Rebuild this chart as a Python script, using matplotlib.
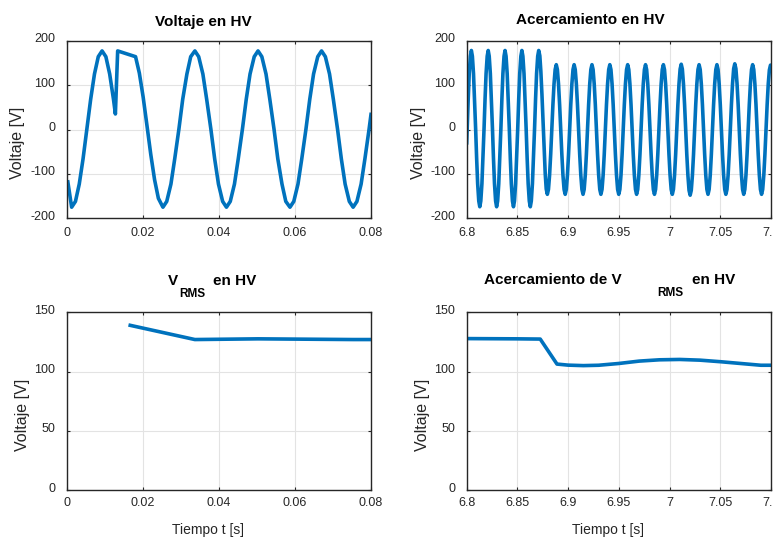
import matplotlib
matplotlib.use("Agg")
import matplotlib.pyplot as plt
import matplotlib.transforms as mtransforms
from matplotlib import font_manager

# ---------------- data ----------------
hv_t = [0.0003, 0.0013, 0.0023, 0.0033, 0.0043, 0.0053, 0.0063, 0.0073, 0.0083, 0.0093,
        0.0103, 0.0113, 0.0123, 0.0128, 0.0134, 0.0181, 0.0191, 0.0201, 0.0211, 0.0221,
        0.0231, 0.0241, 0.0253,
        0.0263, 0.0274, 0.0284, 0.0295, 0.0305, 0.0316, 0.0326, 0.0337,
        0.0347, 0.0358, 0.0368, 0.0379, 0.0389, 0.0399, 0.0410, 0.0420,
        0.0430, 0.0441, 0.0451, 0.0462, 0.0472, 0.0482, 0.0493, 0.0503,
        0.0513, 0.0524, 0.0534, 0.0545, 0.0555, 0.0566, 0.0576, 0.0587,
        0.0597, 0.0608, 0.0618, 0.0629, 0.0639, 0.0649, 0.0660, 0.0670,
        0.0680, 0.0691, 0.0701, 0.0712, 0.0722, 0.0732, 0.0743, 0.0753,
        0.0763, 0.0774, 0.0784, 0.0795, 0.0800]
hv_v = [-118, -175, -162, -123, -66, 1, 68, 125, 164, 177,
        164, 125, 68, 35, 177, 164, 127, 73, 9, -56,
        -113, -155, -175,
        -162, -123, -66, 1, 68, 125, 164, 177,
        164, 125, 68, 1, -66, -123, -162, -175,
        -162, -123, -66, 1, 68, 125, 164, 177,
        164, 125, 68, 1, -66, -123, -162, -175,
        -162, -123, -66, 1, 68, 125, 164, 177,
        164, 125, 68, 1, -66, -123, -162, -175,
        -162, -123, -66, 1, 34]

zoom_t = [6.8000, 6.8015, 6.8025, 6.8036, 6.8046,
          6.8056, 6.8067, 6.8077, 6.8088, 6.8098, 6.8108, 6.8119, 6.8129,
          6.8139, 6.8150, 6.8160, 6.8171, 6.8181, 6.8191, 6.8202, 6.8212,
          6.8222, 6.8233, 6.8243, 6.8254, 6.8264, 6.8274, 6.8285, 6.8295,
          6.8305, 6.8316, 6.8326, 6.8337, 6.8347, 6.8357, 6.8368, 6.8378,
          6.8388, 6.8399, 6.8409, 6.8420, 6.8430, 6.8440, 6.8451, 6.8461,
          6.8471, 6.8482, 6.8492, 6.8503, 6.8513, 6.8523, 6.8534, 6.8544,
          6.8554, 6.8565, 6.8575, 6.8586, 6.8596, 6.8606, 6.8617, 6.8627,
          6.8637, 6.8648, 6.8658, 6.8669, 6.8679, 6.8689, 6.8700, 6.8710,
          6.8721, 6.8731, 6.8742, 6.8753, 6.8763, 6.8774, 6.8784, 6.8795,
          6.8806, 6.8817, 6.8828, 6.8839, 6.8850, 6.8861, 6.8872, 6.8883,
          6.8894, 6.8905, 6.8916, 6.8927, 6.8938, 6.8949, 6.8960, 6.8971,
          6.8982, 6.8993, 6.9004, 6.9015, 6.9026, 6.9037, 6.9048, 6.9059,
          6.9070, 6.9081, 6.9092, 6.9103, 6.9114, 6.9125, 6.9136, 6.9147,
          6.9158, 6.9169, 6.9180, 6.9191, 6.9202, 6.9213, 6.9224, 6.9235,
          6.9246, 6.9257, 6.9268, 6.9279, 6.9290, 6.9301, 6.9312, 6.9323,
          6.9334, 6.9345, 6.9356, 6.9367, 6.9378, 6.9389, 6.9400, 6.9411,
          6.9422, 6.9433, 6.9444, 6.9455, 6.9466, 6.9477, 6.9488, 6.9499,
          6.9510, 6.9521, 6.9532, 6.9543, 6.9554, 6.9565, 6.9576, 6.9587,
          6.9598, 6.9609, 6.9620, 6.9631, 6.9642, 6.9653, 6.9664, 6.9675,
          6.9686, 6.9697, 6.9708, 6.9719, 6.9730, 6.9741, 6.9752, 6.9763,
          6.9774, 6.9785, 6.9796, 6.9807, 6.9818, 6.9829, 6.9840, 6.9851,
          6.9862, 6.9873, 6.9884, 6.9895, 6.9906, 6.9917, 6.9928, 6.9939,
          6.9950, 6.9961, 6.9972, 6.9983, 6.9994, 7.0005, 7.0016, 7.0027,
          7.0038, 7.0049, 7.0060, 7.0071, 7.0082, 7.0093, 7.0104, 7.0115,
          7.0126, 7.0137, 7.0148, 7.0159, 7.0170, 7.0181, 7.0192, 7.0203,
          7.0214, 7.0225, 7.0236, 7.0247, 7.0258, 7.0269, 7.0280, 7.0291,
          7.0302, 7.0313, 7.0324, 7.0335, 7.0346, 7.0357, 7.0368, 7.0379,
          7.0390, 7.0401, 7.0412, 7.0423, 7.0434, 7.0445, 7.0456, 7.0467,
          7.0478, 7.0489, 7.0500, 7.0511, 7.0522, 7.0533, 7.0544, 7.0555,
          7.0566, 7.0577, 7.0588, 7.0599, 7.0610, 7.0621, 7.0632, 7.0643,
          7.0654, 7.0665, 7.0676, 7.0687, 7.0698, 7.0709, 7.0720, 7.0731,
          7.0742, 7.0753, 7.0764, 7.0775, 7.0786, 7.0797, 7.0808, 7.0819,
          7.0830, 7.0841, 7.0852, 7.0863, 7.0874, 7.0885, 7.0896, 7.0907,
          7.0918, 7.0929, 7.0940, 7.0951, 7.0962, 7.0973, 7.0984, 7.0995,
          7.1000]
zoom_v = [-30, 69, 126, 165, 178,
          165, 126, 69, 2, -65, -122, -161, -174,
          -161, -122, -65, 2, 69, 126, 165, 178,
          165, 126, 69, 2, -65, -122, -161, -174,
          -161, -122, -65, 2, 69, 126, 165, 178,
          165, 126, 69, 2, -65, -122, -161, -174,
          -161, -122, -65, 2, 69, 126, 165, 178,
          165, 126, 69, 2, -65, -122, -161, -174,
          -161, -122, -65, 2, 69, 126, 165, 178,
          166, 131, 78, 16, -46, -99, -134, -146,
          -135, -103, -56, 0, 56, 103, 135, 146,
          135, 103, 56, 0, -56, -103, -135, -146,
          -135, -103, -56, 0, 56, 103, 135, 146,
          135, 103, 56, 0, -56, -103, -135, -146,
          -135, -103, -56, 0, 56, 103, 135, 146,
          135, 103, 56, 0, -56, -103, -135, -146,
          -135, -103, -56, 0, 56, 103, 135, 146,
          135, 103, 56, 0, -56, -103, -135, -146,
          -135, -103, -56, 0, 56, 103, 135, 146,
          135, 103, 56, 0, -56, -103, -135, -146,
          -135, -103, -56, 0, 56, 103, 135, 146,
          135, 103, 56, 0, -56, -103, -135, -146,
          -135, -103, -56, 0, 56, 103, 135, 146,
          135, 103, 56, 0, -56, -103, -135, -146,
          -135, -103, -56, 0, 56, 103, 136, 147,
          136, 103, 56, 0, -57, -104, -137, -148,
          -137, -104, -57, 0, 56, 103, 135, 146,
          135, 103, 56, 0, -56, -103, -135, -146,
          -135, -103, -56, 0, 56, 103, 135, 146,
          135, 103, 56, 0, -56, -103, -135, -146,
          -135, -103, -56, 0, 57, 104, 137, 148,
          137, 104, 57, 0, -56, -103, -135, -146,
          -135, -103, -56, 0, 56, 103, 135, 146,
          135, 103, 56, 0, -56, -103, -135, -146,
          -135, -103, -56, 0, 56, 103, 134, 145,
          143]

rms_t = [0.0167, 0.0337, 0.0420, 0.0503, 0.0587, 0.0670, 0.0753, 0.0800]
rms_v = [139.0, 127.0, 127.3, 127.6, 127.4, 127.2, 127.0, 127.0]

rmsz_t = [6.800, 6.850, 6.8725, 6.889, 6.900, 6.915, 6.930, 6.950, 6.970, 6.990,
          7.010, 7.030, 7.050, 7.070, 7.090, 7.100]
rmsz_v = [127.8, 127.6, 127.4, 106.3, 105.4, 105.0, 105.3, 106.8, 108.8, 109.9,
          110.2, 109.6, 108.3, 106.8, 105.3, 105.3]

ticks_early = [0, 0.02, 0.04, 0.06, 0.08]
ticklabels_early = ["0", "0.02", "0.04", "0.06", "0.08"]
ticks_late = [6.8, 6.85, 6.9, 6.95, 7.0, 7.05, 7.1]
ticklabels_late = ["6.8", "6.85", "6.9", "6.95", "7", "7.05", "7.1"]
yticks_v = [-200, -100, 0, 100, 200]
yticks_rms = [0, 50, 100, 150]

# ---------------- style ----------------
names = {f.name for f in font_manager.fontManager.ttflist}
family = "Liberation Sans"
for cand in ["Liberation Sans Narrow", "Arial Narrow", "Liberation Sans"]:
    if cand in names:
        family = cand
        break
narrow = "Narrow" in family
plt.rcParams["font.family"] = [family, "DejaVu Sans"]

TXT = "#262626"
BLUE = "#0072BD"
GRID = "#e3e3e3"
TICK_FS = 10 if narrow else 9
YLAB_FS = 12 if narrow else 11.5
XLAB_FS = 12 if narrow else 10
TIT_FS = 12 if narrow else 11
SUB_FS = 9.5 if narrow else 8.5
LW = 2.6

W, H = 773, 540
fig = plt.figure(figsize=(W / 100, H / 100), dpi=100)


def add_axes(left, top, right, bottom):
    return fig.add_axes([left / W, 1 - bottom / H, (right - left) / W, (bottom - top) / H])


def style(ax, xpad):
    ax.grid(True, color=GRID, linewidth=0.8)
    ax.set_axisbelow(True)
    for s in ax.spines.values():
        s.set_color(TXT)
        s.set_linewidth(1.0)
    ax.tick_params(direction="in", length=2.5, width=0.8, color=TXT,
                   top=True, right=True, labelcolor=TXT, labelsize=TICK_FS)
    ax.tick_params(axis="y", pad=8.4)
    ax.tick_params(axis="x", pad=xpad)


ax1 = add_axes(66.7, 40.7, 371, 218.3)
ax2 = add_axes(466.7, 40.7, 771, 218.3)
ax3 = add_axes(66.7, 312.3, 371, 490)
ax4 = add_axes(466.7, 312.3, 771, 490)

ax1.plot(hv_t, hv_v, color=BLUE, linewidth=LW, solid_joinstyle="round")
ax2.plot(zoom_t, zoom_v, color=BLUE, linewidth=LW, solid_joinstyle="round")
ax3.plot(rms_t, rms_v, color=BLUE, linewidth=LW, solid_joinstyle="round")
ax4.plot(rmsz_t, rmsz_v, color=BLUE, linewidth=LW, solid_joinstyle="round")

for ax in (ax1, ax3):
    ax.set_xlim(0, 0.08)
    ax.set_xticks(ticks_early)
    ax.set_xticklabels(ticklabels_early)
for ax in (ax2, ax4):
    ax.set_xlim(6.8, 7.1)
    ax.set_xticks(ticks_late)
    ax.set_xticklabels(ticklabels_late)
for ax in (ax1, ax2):
    ax.set_ylim(-200, 200)
    ax.set_yticks(yticks_v)
    ax.set_yticklabels([str(v) for v in yticks_v])
    style(ax, 6)
for ax in (ax3, ax4):
    ax.set_ylim(0, 150)
    ax.set_yticks(yticks_rms)
    ax.set_yticklabels([str(v) for v in yticks_rms])
    style(ax, 5)

# y labels
for ax, dx in ((ax1, 49), (ax2, 48.7), (ax3, 44), (ax4, 43.7)):
    ax.set_ylabel("Voltaje [V]", fontsize=YLAB_FS, color=TXT)
    ax.yaxis.label.set_va("center")
    ax.yaxis.set_label_coords(-dx / 304.3, 0.5 - 13.5 / 177.6)

for ax in (ax3, ax4):
    ax.set_xlabel("Tiempo t [s]", fontsize=XLAB_FS, color=TXT)
    ax.xaxis.label.set_va("center")
    ax.xaxis.set_label_coords(0.5 - 11 / 304.3, -40 / 177.7)

# raise y tick labels slightly, as in the reference
off = mtransforms.ScaledTranslation(0, 3 / 100, fig.dpi_scale_trans)
for ax in (ax1, ax2, ax3, ax4):
    for lab in ax.get_yticklabels():
        lab.set_transform(lab.get_transform() + off)


def ftext(x, y, s, size, ha="center"):
    fig.text(x / W, 1 - y / H, s, fontsize=size, fontweight="bold",
             color="black", ha=ha, va="baseline")


# titles
ftext(203.3, 26, "Voltaje en HV", TIT_FS)
ftext(590.8, 24, "Acercamiento en HV", TIT_FS)
ftext(172.5, 285, "V", TIT_FS)
ftext(192, 297, "RMS", SUB_FS)
ftext(235, 285, "en HV", TIT_FS)
ftext(553.3, 284, "Acercamiento de V", TIT_FS)
ftext(670, 296, "RMS", SUB_FS)
ftext(713.7, 284, "en HV", TIT_FS)

fig.savefig("out.png", dpi=100)
